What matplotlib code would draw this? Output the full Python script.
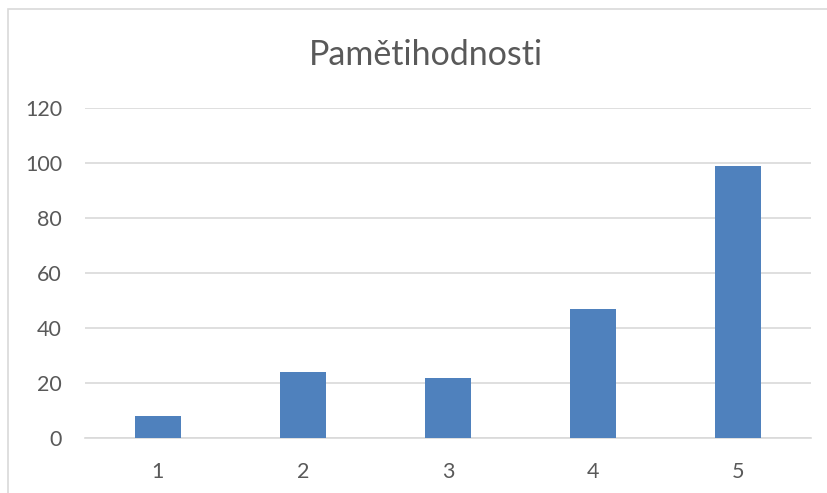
import matplotlib
matplotlib.use("Agg")
import matplotlib.pyplot as plt
from matplotlib.patches import Rectangle

categories = ["1", "2", "3", "4", "5"]
values = [8, 24, 22, 47, 99]
yticks = [0, 20, 40, 60, 80, 100, 120]
title = "Pamětihodnosti"

plt.rcParams['font.family'] = ['Lato', 'DejaVu Sans']

W, H = 827, 493
fig = plt.figure(figsize=(W / 100, H / 100), dpi=100)
fig.patch.set_facecolor("white")

# outer chart border
fig.patches.append(Rectangle((8 / W, -0.1), 1.2, (H - 9) / H + 0.1,
                             transform=fig.transFigure, fill=False,
                             edgecolor="#D9D9D9", linewidth=1.2))

ax = fig.add_axes([85 / W, 1 - 438 / H, (811 - 85) / W, (438 - 108) / H])
x = list(range(len(categories)))
ax.bar(x, values, width=0.316, color="#4F81BD", zorder=3)
ax.set_xlim(-0.5, len(categories) - 0.5)
ax.set_ylim(0, 120)
ax.set_yticks(yticks)
ax.set_xticks(x)
ax.set_xticklabels(categories)
ax.yaxis.grid(True, color="#D9D9D9", linewidth=1.2, zorder=0)
for s in ["top", "right", "left"]:
    ax.spines[s].set_visible(False)
ax.spines["bottom"].set_color("#D9D9D9")
ax.spines["bottom"].set_linewidth(1.2)
ax.tick_params(axis="both", length=0, labelsize=15.5, labelcolor="#595959")
ax.tick_params(axis="y", pad=16.5)
ax.tick_params(axis="x", pad=17)

fig.text(425.5 / W, 1 - 55 / H, title, ha="center", va="center",
         fontsize=24.5, color="#595959")

fig.savefig("out.png", dpi=100, facecolor="white")
